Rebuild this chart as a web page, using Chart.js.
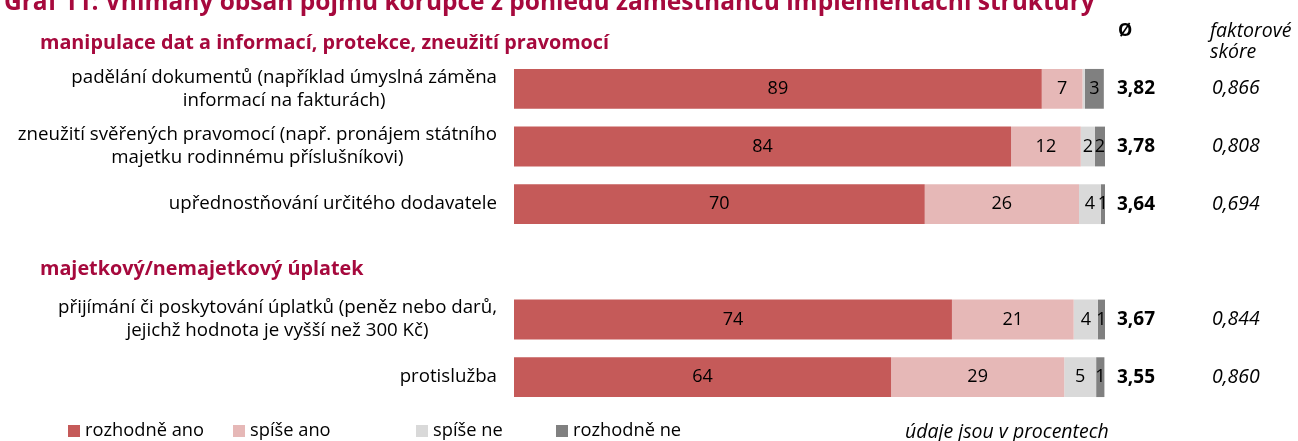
<!DOCTYPE html>
<html>
<head>
<meta charset="utf-8">
<script src="https://cdn.jsdelivr.net/npm/chart.js@4/dist/chart.umd.min.js"></script>
<style>
  body { margin: 0; background: #fff; }
  #wrap { width: 1298px; height: 441px; position: relative; }
</style>
</head>
<body>
<div id="wrap"><canvas id="bar-chart"></canvas></div>
<script>
// popisky řádků (prázdný řádek = mezera pro nadpis skupiny)
var categories = [
  ["padělání dokumentů (například úmyslná záměna", "informací na fakturách)"],
  ["zneužití svěřených pravomocí (např. pronájem státního", "majetku rodinnému příslušníkovi)"],
  ["upřednostňování určitého dodavatele"],
  [""],
  ["přijímání či poskytování úplatků (peněz nebo darů,", "jejichž hodnota je vyšší než 300 Kč)"],
  ["protislužba"]
];
var groupTitles = ["manipulace dat a informací, protekce, zneužití pravomocí", "majetkový/nemajetkový úplatek"];

// hodnoty v procentech
var rozhodneAno = [89.3, 84.1, 69.5, null, 74.1, 63.8];
var spiseAno = [6.9, 11.8, 26.1, null, 20.6, 29.3];
var spiseNe = [0.4, 2.4, 3.7, null, 4.1, 5.4];
var rozhodneNe = [3.2, 1.7, 0.7, null, 1.2, 1.4];

// průměr a faktorové skóre
var prumer = ["3,82", "3,78", "3,64", "", "3,67", "3,55"];
var faktorSkore = ["0,866", "0,808", "0,694", "", "0,844", "0,860"];

var seriesNames = ["rozhodně ano", "spíše ano", "spíše ne", "rozhodně ne"];
var seriesColors = ["#c55a59", "#e6b8b7", "#d9d9d9", "#808080"];

var FONT = "'Open Sans', sans-serif";
var RED = "#a6093d";

// vlastní texty okolo grafu
var textPlugin = {
  id: "texts",
  afterDatasetsDraw: function (chart) {
    var ctx = chart.ctx;
    var y = chart.scales.y;
    var area = chart.chartArea;
    ctx.save();
    ctx.textBaseline = "middle";

    // nadpis (oříznutý nahoře)
    ctx.fillStyle = RED;
    ctx.font = "bold 24.5px " + FONT;
    ctx.textAlign = "left";
    ctx.fillText("Graf 11: Vnímaný obsah pojmu korupce z pohledu zaměstnanců implementační struktury", 4, 3);

    // nadpisy skupin
    ctx.font = "bold 19.8px " + FONT;
    ctx.fillText(groupTitles[0], 40, 43);
    ctx.fillText(groupTitles[1], 40, y.getPixelForValue(3) + 8);

    // popisky řádků - blok zarovnaný doprava, řádky na střed
    ctx.fillStyle = "#000";
    ctx.font = "18.7px " + FONT;
    var right = area.left - 17;
    for (var i = 0; i < categories.length; i++) {
      var lines = categories[i];
      var w = 0;
      for (var j = 0; j < lines.length; j++) {
        w = Math.max(w, ctx.measureText(lines[j]).width);
      }
      var cx = right - w / 2;
      var cy = y.getPixelForValue(i);
      ctx.textAlign = "center";
      for (var j = 0; j < lines.length; j++) {
        ctx.fillText(lines[j], cx, cy + (j - (lines.length - 1) / 2) * 23);
      }
    }

    // hodnoty v pruzích
    ctx.font = "18px " + FONT;
    ctx.textAlign = "center";
    chart.data.datasets.forEach(function (ds, di) {
      var meta = chart.getDatasetMeta(di);
      meta.data.forEach(function (bar, idx) {
        var v = ds.data[idx];
        if (v == null || Math.round(v) < 1) return;
        ctx.fillText(Math.round(v), (bar.x + bar.base) / 2, bar.y);
      });
    });

    // pravé sloupce
    ctx.textAlign = "left";
    ctx.font = "bold 18px " + FONT;
    ctx.fillText("Ø", 1118, 31);
    ctx.font = "italic 19.5px " + FONT;
    ctx.fillText("faktorové", 1210, 31);
    ctx.fillText("skóre", 1210, 52);
    for (var i = 0; i < prumer.length; i++) {
      var cy = y.getPixelForValue(i);
      ctx.font = "bold 19px " + FONT;
      ctx.textAlign = "left";
      ctx.fillText(prumer[i], 1117, cy);
      ctx.font = "italic 19.5px " + FONT;
      ctx.fillText(faktorSkore[i], 1212, cy);
    }

    // legenda
    var legendX = [68, 233, 416, 556];
    ctx.font = "18.3px " + FONT;
    for (var i = 0; i < seriesNames.length; i++) {
      ctx.fillStyle = seriesColors[i];
      ctx.fillRect(legendX[i], 425, 12, 12);
      ctx.fillStyle = "#000";
      ctx.fillText(seriesNames[i], legendX[i] + 17, 431);
    }
    ctx.font = "italic 19.5px " + FONT;
    ctx.fillText("údaje jsou v procentech", 905, 432);
    ctx.restore();
  }
};

new Chart(document.getElementById("bar-chart"), {
  type: "bar",
  data: {
    labels: categories,
    datasets: [
      { label: seriesNames[0], data: rozhodneAno, backgroundColor: seriesColors[0] },
      { label: seriesNames[1], data: spiseAno, backgroundColor: seriesColors[1] },
      { label: seriesNames[2], data: spiseNe, backgroundColor: seriesColors[2] },
      { label: seriesNames[3], data: rozhodneNe, backgroundColor: seriesColors[3] }
    ]
  },
  options: {
    indexAxis: "y",
    responsive: true,
    maintainAspectRatio: false,
    animation: false,
    layout: {
      padding: { left: 514, right: 193, top: 60, bottom: 35 }
    },
    datasets: {
      bar: { barPercentage: 0.69, categoryPercentage: 1 }
    },
    scales: {
      x: { stacked: true, min: 0, max: 100, display: false },
      y: { stacked: true, display: false }
    },
    plugins: {
      legend: { display: false },
      tooltip: { enabled: false }
    }
  },
  plugins: [textPlugin]
});
</script>
</body>
</html>
